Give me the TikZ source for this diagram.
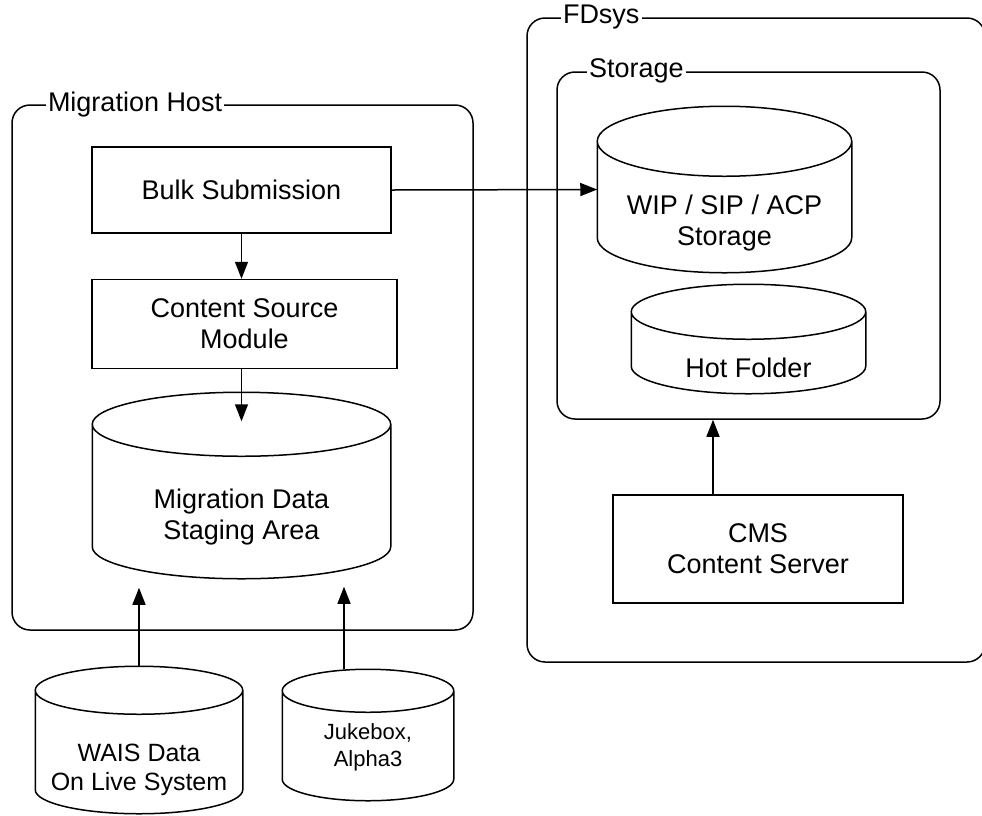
\documentclass[tikz,border=0pt]{standalone}
\usepackage{fontspec}
\setmainfont{Liberation Sans}
\usetikzlibrary{arrows.meta, positioning, calc}

% outline of a storage cylinder round a named node
\newcommand{\drawdb}[2]{%
\draw let \p1=(#1.north west), \p2=(#1.south east), \n1={(\x2-\x1)/2} in
(\x1,\y1-#2) -- (\x1,\y2+#2)
arc[start angle=180, end angle=360, x radius=\n1, y radius=#2]
-- (\x2,\y1-#2)
arc[start angle=0, end angle=180, x radius=\n1, y radius=#2]
arc[start angle=180, end angle=360, x radius=\n1, y radius=#2];}

\begin{document}
\begin{tikzpicture}[
x=1pt, y=-1pt,
line width=1.5pt,
font=\fontsize{27}{31}\selectfont,
box/.style={draw,
rectangle,
align=center},
db/.style={rectangle,
inner sep=0pt,
align=center},
dbtext/.style={text height=#1,
text depth=0pt},
group/.style={draw,
rectangle,
rounded corners=18pt},
grouplabel/.style={fill=white,
inner sep=2pt,
anchor=west},
arrow/.style={-{Triangle[length=17pt, width=13pt]}}
]

\useasboundingbox (0,0) rectangle (982,815);

% containers
\node[group, minimum width=461pt, minimum height=525pt] (host) at (242.5,367.5) {};
\node[group, minimum width=458pt, minimum height=644pt] (fdsys) at (756,340) {};
\node[group, minimum width=383pt, minimum height=347pt] (storage) at (748.5,245.5) {};

\node[grouplabel] (hostlabel) at ([xshift=34pt]host.north west) {Migration Host};
\node[grouplabel] (fdsyslabel) at ([xshift=34pt]fdsys.north west) {FDsys};
\node[grouplabel] (storagelabel) at ([xshift=30pt]storage.north west) {Storage};

% migration host
\node[box, minimum width=299pt, minimum height=86pt] (bulk) at (241.5,190) {Bulk Submission};
\node[box, minimum width=305pt, minimum height=89pt, below=45pt of bulk.south west, anchor=north west] (csm) {Content Source\\Module};
\node[db, dbtext=108pt, minimum width=297pt, minimum height=185pt] (staging) at (241.5,485.5) {Migration Data\\Staging Area};
\drawdb{staging}{32pt}

% fdsys
\node[db, dbtext=112pt, minimum width=253pt, minimum height=165pt] (wip) at (724.5,189.5) {WIP / SIP / ACP\\Storage};
\drawdb{wip}{35pt}
\node[db, dbtext=76pt, minimum width=233pt, minimum height=108pt] (hot) at (748.5,339) {Hot Folder};
\drawdb{hot}{27.5pt}
\node[box, minimum width=290pt, minimum height=108pt] (cms) at (758,549) {CMS\\Content Server};

% sources
\node[db, dbtext=100pt, minimum width=206pt, minimum height=146pt, font=\fontsize{25}{28.5}\selectfont] (wais) at (139,740) {WAIS Data\\On Live System};
\drawdb{wais}{24pt}
\node[db, dbtext=62pt, minimum width=170pt, minimum height=130pt, font=\fontsize{22}{27}\selectfont] (jukebox) at (368,735) {Jukebox,\\Alpha3};
\drawdb{jukebox}{21.5pt}

\coordinate (jtop) at ([xshift=-24pt]jukebox.north);
\coordinate (cmstop) at ([xshift=-45pt]cms.north);

\draw[arrow] (bulk) -- (bulk.south |- csm.north);
\draw[arrow] (csm.south -| staging) -- ([yshift=-29pt]staging.north);
\draw[arrow] (bulk.east) -- (wip.west);
\draw[arrow, shorten >=9pt] (wais) -- (wais |- staging.south);
\draw[arrow, shorten >=8pt] (jtop) -- (jtop |- staging.south);
\draw[arrow] (cmstop) -- (cmstop |- storage.south);

\end{tikzpicture}
\end{document}
